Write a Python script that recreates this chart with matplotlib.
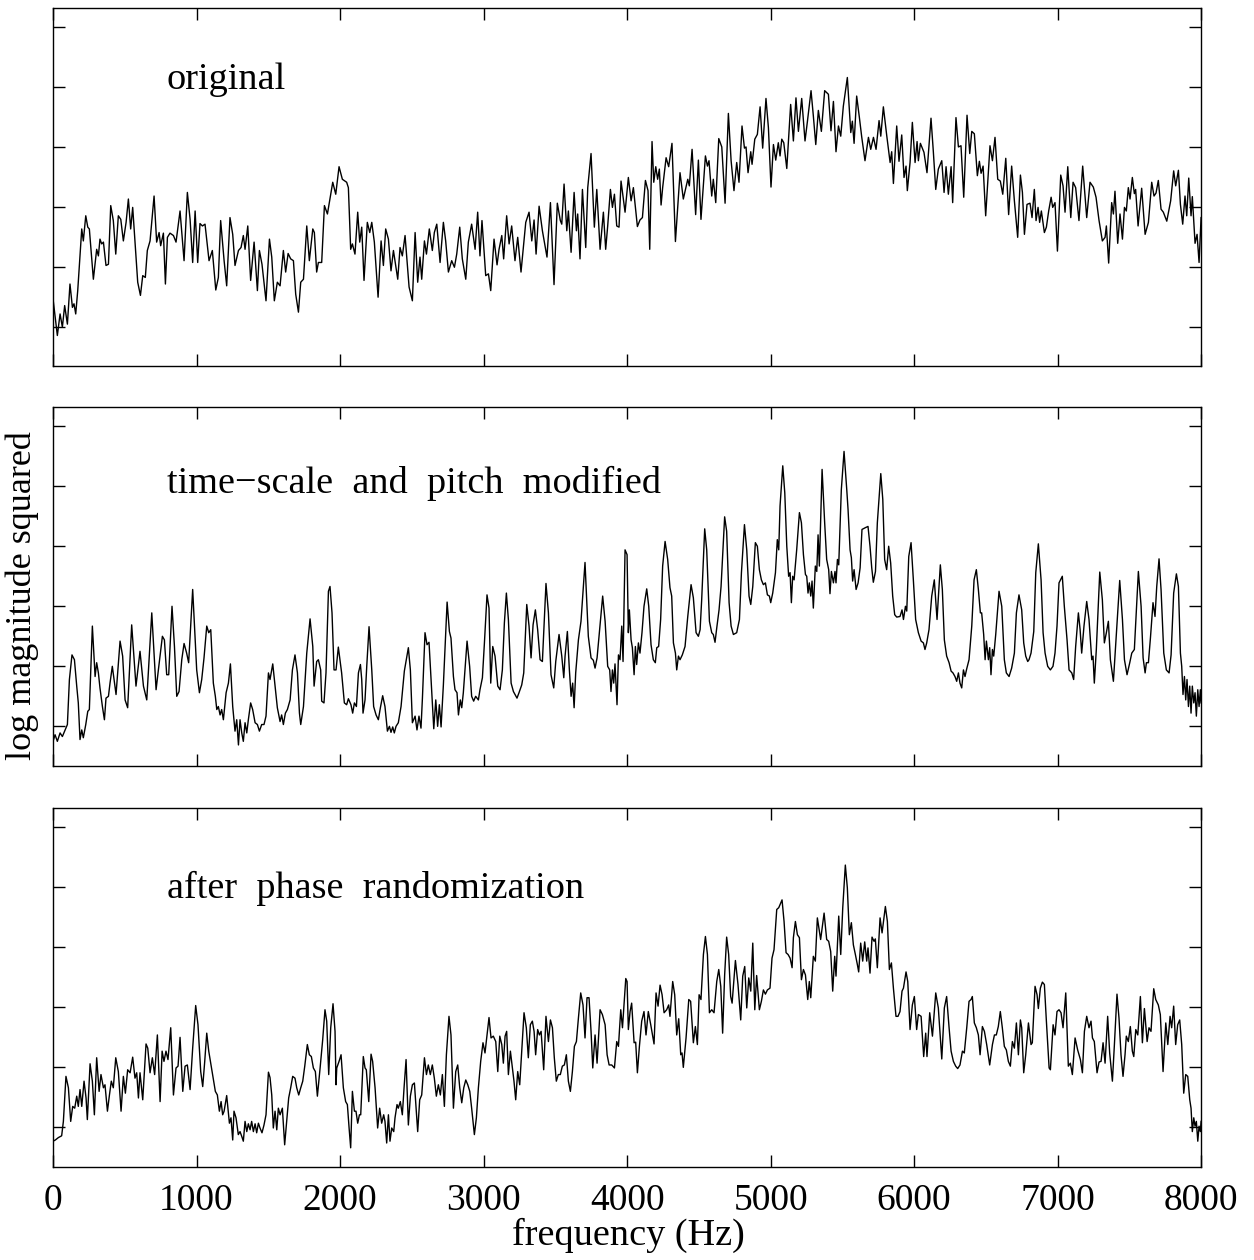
import numpy as np
import matplotlib
matplotlib.use('Agg')
import matplotlib.pyplot as plt

plt.rcParams['font.family'] = ['Liberation Serif', 'DejaVu Serif']

# spectra: frequency (Hz) and log magnitude squared (dB)
orig_hz = [0, 30, 49, 65, 81, 100, 118, 135, 146, 158, 172, 200, 211, 228, 242, 253, 281, 304, 316, 327,
           339, 351, 369, 386, 402, 420, 437, 455, 472, 490, 509, 525, 541, 555, 571, 590, 609, 625, 643, 657,
           676, 704, 722, 739, 750, 769, 783, 797, 815, 839, 857, 885, 913, 936, 955, 973, 990, 1008, 1024, 1041,
           1059, 1087, 1110, 1134, 1152, 1168, 1182, 1192, 1210, 1233, 1252, 1268, 1292, 1310, 1326, 1338, 1357, 1377, 1401, 1424,
           1438, 1456, 1484, 1508, 1524, 1542, 1563, 1582, 1605, 1621, 1638, 1656, 1675, 1691, 1710, 1726, 1745, 1768, 1786, 1810,
           1821, 1837, 1849, 1872, 1891, 1912, 1949, 1970,
           1993, 2016, 2046, 2058, 2074, 2086, 2104, 2123, 2137, 2151, 2167, 2190, 2207, 2221, 2239, 2265, 2286, 2302, 2318, 2337,
           2355, 2372, 2388, 2402, 2418, 2434, 2453, 2481, 2504, 2523, 2541, 2557, 2569, 2588, 2602, 2622, 2643, 2657, 2674, 2697,
           2720, 2736, 2755, 2778, 2797, 2813, 2834, 2852, 2876, 2894, 2917, 2941, 2959, 2975, 2989, 3015, 3034, 3050, 3073, 3094,
           3108, 3127, 3140, 3161, 3178, 3196, 3219, 3238, 3261, 3294, 3317, 3336, 3352, 3366, 3387, 3410, 3442, 3466, 3491, 3514,
           3535, 3545, 3561, 3580, 3591, 3610, 3631, 3647, 3656, 3672, 3689, 3712, 3726, 3749, 3772, 3789, 3812, 3835, 3851, 3865,
           3884, 3898, 3912, 3928, 3944, 3958,
           3986, 4009, 4028, 4044, 4072, 4090, 4107, 4128, 4146, 4158, 4174, 4186, 4200, 4213, 4225, 4237, 4248, 4272, 4290, 4313,
           4337, 4369, 4392, 4423, 4434, 4453, 4478, 4497, 4515, 4546, 4560, 4571, 4590, 4601, 4618, 4639, 4660, 4683, 4706, 4725,
           4745, 4764, 4780, 4801, 4818, 4829, 4843, 4862, 4871, 4890, 4908, 4927, 4945, 4968, 4985, 5003, 5020, 5036, 5054, 5066,
           5078, 5092, 5113, 5140, 5159, 5177, 5194, 5217, 5240, 5257, 5282, 5298, 5315, 5333, 5354, 5377, 5403, 5421, 5438, 5456,
           5473, 5489, 5507, 5535, 5559, 5570, 5582, 5600, 5619, 5635, 5658, 5682, 5698, 5717, 5735, 5756, 5768, 5786, 5809, 5833,
           5844, 5856, 5879, 5895, 5914, 5930, 5944, 5953, 5972,
           5988, 6007, 6021, 6030, 6044, 6069, 6090, 6118, 6134, 6151, 6169, 6193, 6209, 6223, 6239, 6258, 6269, 6292, 6309, 6327,
           6346, 6369, 6388, 6402, 6420, 6441, 6455, 6467, 6481, 6499, 6529, 6546, 6564, 6583, 6601, 6618, 6639, 6659, 6680, 6699,
           6722, 6741, 6755, 6769, 6787, 6808, 6822, 6838, 6850, 6864, 6875, 6887, 6908, 6922, 6938, 6955, 6966, 6982, 6999, 7022,
           7038, 7052, 7071, 7092, 7108, 7126, 7149, 7175, 7203, 7226, 7249, 7268, 7289, 7312, 7331, 7340, 7356, 7377, 7389, 7400,
           7419, 7435, 7452, 7466, 7479, 7493, 7505, 7521, 7535, 7544, 7561, 7586, 7610, 7633, 7656, 7672, 7686, 7702, 7721, 7737,
           7761, 7788, 7809, 7823, 7842, 7856, 7872, 7888, 7900, 7914, 7930, 7939, 7958, 7972, 7986, 8000]
orig_db = [4.6, -1.5, 2.1, -0.1, 3.5, 0.4, 7.1, 3.2, 3.8, 2.1, 6.0, 16.3, 14.3, 18.5, 16.6, 16.3, 7.9, 12.9, 11.8, 14.6,
           13.8, 14.1, 10.2, 10.4, 20.2, 17.7, 12.1, 18.5, 17.9, 14.3, 17.4, 21.3, 16.3, 19.9, 14.3, 7.4, 5.2, 8.5, 8.2, 12.7,
           14.3, 21.8, 14.1, 15.7, 13.5, 15.6, 7.1, 14.9, 15.6, 15.2, 14.1, 19.3, 11.0, 22.4, 17.9, 10.7, 19.3, 10.7, 17.2, 16.8,
           17.1, 11.0, 12.7, 6.1, 8.2, 17.7, 13.8, 11.0, 6.8, 18.2, 15.4, 10.2, 12.7, 13.2, 15.2, 12.9, 16.8, 7.7, 14.1, 6.0,
           12.7, 10.4, 4.3, 14.6, 11.6, 4.3, 7.4, 6.8, 12.7, 9.1, 12.2, 11.3, 11.0, 5.4, 2.4, 7.4, 7.9, 16.8, 11.0, 16.3,
           15.7, 9.1, 10.7, 10.7, 20.2, 18.8, 24.1, 22.1,
           26.7, 24.6, 24.1, 23.2, 12.9, 13.8, 12.1, 19.1, 14.1, 16.6, 7.7, 17.4, 15.7, 17.4, 14.1, 4.9, 14.3, 10.2, 16.3, 14.6,
           9.3, 12.7, 10.2, 7.9, 13.2, 11.8, 15.2, 6.6, 4.3, 15.7, 7.4, 11.6, 7.9, 14.3, 12.1, 16.3, 12.7, 15.7, 17.1, 10.7,
           17.4, 14.3, 9.1, 11.0, 9.9, 12.1, 16.6, 11.3, 7.9, 14.1, 17.1, 12.9, 19.1, 11.8, 17.7, 8.5, 8.8, 6.0, 14.6, 10.3,
           12.9, 15.2, 11.3, 18.5, 13.8, 16.8, 11.0, 14.9, 9.1, 17.4, 19.1, 14.3, 17.8, 12.1, 20.1, 16.0, 11.6, 20.7, 7.0, 20.6,
           17.7, 17.1, 23.8, 16.0, 19.3, 12.4, 22.4, 16.0, 18.8, 11.3, 22.9, 13.2, 23.2, 28.9, 16.6, 22.9, 12.9, 19.1, 12.9, 16.8,
           22.9, 19.9, 22.1, 16.8, 16.6, 24.3,
           19.1, 24.9, 21.0, 23.2, 16.7, 17.8, 18.2, 24.4, 22.7, 12.9, 30.9, 24.1, 26.7, 24.6, 26.3, 20.3, 23.2, 28.2, 26.7, 30.6,
           14.2, 25.7, 21.3, 24.6, 23.5, 29.6, 18.7, 27.8, 17.9, 28.5, 26.8, 27.7, 21.8, 24.6, 20.7, 31.4, 30.0, 20.6, 35.6, 27.7,
           22.7, 27.4, 24.1, 33.5, 29.8, 30.0, 25.7, 29.2, 27.1, 31.3, 32.1, 36.7, 29.8, 38.1, 33.2, 23.3, 30.4, 27.8, 30.7, 28.5,
           31.3, 30.7, 26.4, 37.1, 31.0, 38.2, 32.6, 38.1, 31.0, 34.3, 39.4, 35.2, 30.4, 36.1, 32.6, 39.4, 38.8, 32.7, 37.6, 29.2,
           33.5, 31.8, 36.8, 41.6, 32.4, 34.3, 30.6, 38.5, 34.9, 31.7, 27.7, 31.6, 29.6, 31.6, 29.6, 34.4, 31.8, 36.7, 32.0, 27.4,
           29.2, 23.9, 33.5, 27.6, 32.0, 24.9, 26.8, 22.7, 27.4,
           34.1, 27.4, 30.9, 27.7, 30.6, 29.1, 25.7, 34.8, 29.3, 22.9, 26.3, 27.7, 22.4, 26.7, 22.1, 26.7, 20.7, 34.9, 30.0, 30.2,
           21.6, 35.3, 28.9, 32.6, 32.2, 25.2, 27.6, 25.6, 26.8, 18.5, 30.2, 27.7, 31.6, 24.6, 24.3, 22.1, 28.1, 18.7, 26.8, 21.0,
           14.9, 25.3, 22.4, 15.4, 20.4, 20.6, 18.2, 22.9, 17.7, 19.9, 17.4, 19.3, 15.7, 16.6, 19.3, 21.6, 19.9, 20.7, 12.6, 25.3,
           23.5, 19.1, 26.7, 18.2, 24.1, 23.2, 17.7, 26.8, 18.2, 24.1, 23.3, 21.6, 17.7, 14.3, 14.9, 16.8, 10.6, 20.7, 18.8, 22.6,
           13.9, 18.8, 14.6, 19.9, 19.3, 23.2, 21.3, 24.9, 22.2, 22.9, 16.8, 23.1, 15.4, 17.4, 24.1, 21.8, 22.3, 24.4, 19.6, 19.1,
           17.6, 21.0, 26.0, 23.5, 26.1, 20.4, 17.1, 21.8, 18.5, 24.8, 18.5, 21.7, 13.9, 15.4, 10.7, 18.2]

mod_hz = [0, 14, 30, 49, 65, 84, 100, 114, 132, 149, 165, 176, 188, 200, 211, 228, 242, 253, 274, 293,
          304, 316, 327, 344, 358, 369, 386, 397, 413, 425, 439, 467, 485, 502, 520, 548, 578, 606, 630, 653,
          688, 718, 734, 762, 776, 792, 806, 829, 846, 862, 878, 897, 913, 931, 945, 973, 1001, 1020, 1036, 1052,
          1071, 1085, 1099, 1117, 1131, 1141, 1152, 1164, 1175, 1187, 1206, 1222, 1236, 1252, 1268, 1280, 1292, 1303, 1315, 1326,
          1338, 1350, 1361, 1377, 1391, 1408, 1424, 1438, 1454, 1470, 1484, 1501, 1512, 1531, 1547, 1563, 1582, 1593, 1605, 1619,
          1633, 1652, 1668, 1686, 1703, 1717, 1726, 1745, 1768, 1791, 1810, 1819, 1837, 1849, 1865, 1872, 1888, 1902, 1919, 1930,
          1944, 1958, 1972, 1988,
          2011, 2030, 2046, 2058, 2076, 2088, 2100, 2114, 2128, 2142, 2151, 2160, 2174, 2186, 2202, 2221, 2234, 2251, 2267, 2281,
          2297, 2313, 2330, 2344, 2355, 2367, 2378, 2390, 2406, 2425, 2448, 2462, 2476, 2490, 2504, 2523, 2536, 2550, 2564, 2574,
          2592, 2606, 2620, 2639, 2653, 2667, 2680, 2692, 2704, 2720, 2746, 2762, 2773, 2790, 2801, 2815, 2825, 2838, 2848, 2859,
          2885, 2903, 2917, 2931, 2945, 2964, 2975, 2992, 3006, 3024, 3038, 3050, 3064, 3080, 3099, 3115, 3131, 3145, 3159, 3173,
          3192, 3208, 3219, 3233, 3247, 3266, 3280, 3301, 3317, 3331, 3345, 3361, 3377, 3394, 3410, 3419, 3435, 3452, 3470, 3489,
          3503, 3526, 3545, 3559, 3568, 3584, 3598, 3610, 3621, 3631, 3642, 3661, 3679, 3707, 3730, 3749, 3765, 3777, 3791, 3809,
          3830, 3847, 3865, 3879, 3888, 3898, 3907, 3916, 3930, 3940, 3951, 3963, 3972, 3986, 4000,
          4009, 4016, 4028, 4037, 4049, 4058, 4067, 4079, 4090, 4104, 4118, 4137, 4151, 4167, 4183, 4197, 4207, 4220, 4234, 4248,
          4265, 4283, 4299, 4311, 4323, 4337, 4346, 4358, 4369, 4385, 4404, 4423, 4446, 4462, 4481, 4497, 4509, 4520, 4541, 4555,
          4574, 4590, 4601, 4613, 4625, 4641, 4655, 4680, 4694, 4711, 4725, 4741, 4764, 4783, 4797, 4818, 4834, 4850, 4862, 4876,
          4894, 4908, 4922, 4936, 4950, 4964, 4978, 4992, 5001, 5015, 5034, 5047, 5057, 5066, 5085, 5099, 5113, 5126, 5136, 5145,
          5154, 5164, 5182, 5201, 5215, 5229, 5243, 5252, 5261, 5270, 5280, 5289, 5298, 5312, 5322, 5331, 5340, 5359, 5377, 5391,
          5405, 5414, 5424, 5438, 5449, 5456, 5466, 5475, 5493, 5512, 5531, 5540, 5554, 5563, 5572, 5582, 5596, 5610, 5624, 5637,
          5661, 5679, 5693, 5705, 5716, 5731, 5744, 5768, 5782, 5795, 5809, 5823, 5837, 5851, 5865, 5879, 5902, 5916, 5926, 5940,
          5949, 5963,
          5979, 5995, 6011, 6030, 6049, 6065, 6076, 6088, 6104, 6123, 6141, 6160, 6183, 6197, 6211, 6227, 6244, 6258, 6271, 6285,
          6297, 6309, 6320, 6332, 6344, 6355, 6367, 6383, 6402, 6418, 6434, 6448, 6462, 6471, 6485, 6495, 6504, 6518, 6527, 6536,
          6546, 6555, 6569, 6592, 6611, 6629, 6643, 6662, 6680, 6699, 6713, 6731, 6750, 6764, 6778, 6792, 6801, 6815, 6834, 6848,
          6866, 6885, 6899, 6913, 6931, 6950, 6968, 6982, 6996, 7010, 7033, 7047, 7066, 7080, 7099, 7112, 7126, 7145, 7157, 7168,
          7184, 7203, 7219, 7238, 7247, 7256, 7270, 7294, 7312, 7326, 7340, 7354, 7368, 7389, 7410, 7433, 7452, 7466, 7484, 7503,
          7517, 7535, 7563, 7582, 7596, 7610, 7619, 7633, 7647, 7665, 7679, 7691, 7707, 7721, 7740, 7758, 7777, 7791, 7809, 7828,
          7842, 7856, 7865, 7874, 7884, 7893, 7902, 7912, 7921, 7930, 7939, 7949, 7958, 7967, 7977, 7986, 7995, 8000]
mod_db = [-2.5, -1.4, -2.5, -1.1, -1.7, -0.6, 0.3, 7.8, 11.9, 11.1, 6.7, 3.9, -2.2, -0.6, -1.9, 0.3, 2.5, 2.8, 16.7, 8.3,
          10.6, 8.9, 6.4, 3.3, 1.1, 4.7, 5.0, 7.2, 10.0, 7.8, 5.3, 14.2, 11.7, 4.4, 3.1, 16.9, 6.7, 12.5, 6.7, 4.4,
          18.9, 6.1, 9.4, 15.0, 14.4, 8.6, 8.6, 20.0, 13.3, 5.0, 5.8, 11.1, 13.8, 12.2, 10.6, 22.8, 9.4, 5.6, 7.8, 11.4,
          16.7, 15.6, 16.1, 7.2, 5.0, 2.8, 3.3, 1.9, 2.8, 1.1, 5.6, 7.2, 10.4, 3.3, -0.8, 1.1, -3.1, 1.1, -1.1, -2.5,
          0.6, -1.1, 1.1, 3.9, 2.8, 0.6, 0.3, -0.8, 0.3, 0.3, 1.7, 8.9, 7.8, 10.4, 6.7, 3.1, 0.8, 1.9, 0.3, 2.2,
          2.8, 4.4, 9.4, 11.9, 8.9, 2.2, 0.3, 3.3, 12.2, 17.9, 13.3, 6.7, 10.8, 11.1, 9.4, 4.2, 3.9, 8.9, 22.5, 23.3,
          18.9, 9.4, 9.4, 13.2,
          8.9, 3.9, 3.6, 4.6, 3.6, 2.2, 3.9, 3.3, 8.9, 10.3, 7.8, 2.2, 4.4, 10.0, 16.6, 9.4, 3.3, 1.9, 1.1, 3.1,
          5.1, 3.3, -0.8, 0.0, -1.0, -0.1, -1.1, 0.0, 0.6, 3.3, 9.2, 11.1, 13.1, 9.4, 0.6, 1.7, -0.6, 1.7, -0.3, 4.7,
          15.6, 13.6, 14.0, 5.8, -0.4, 4.4, 0.0, 3.6, -0.1, 6.9, 20.7, 15.8, 14.7, 8.3, 6.1, 5.6, 1.9, 4.4, 3.1, 5.6,
          14.2, 10.0, 5.0, 4.2, 5.0, 4.4, 6.1, 8.1, 13.9, 21.9, 19.7, 7.2, 13.3, 11.7, 6.7, 6.1, 9.4, 17.2, 22.2, 17.8,
          7.2, 5.8, 5.3, 4.7, 5.6, 6.9, 8.9, 20.3, 16.7, 11.4, 16.9, 19.4, 16.1, 11.1, 10.8, 15.6, 23.8, 18.9, 8.6, 6.4,
          10.8, 15.3, 11.7, 8.1, 11.7, 15.8, 9.4, 5.0, 7.2, 3.1, 8.9, 14.4, 17.5, 27.3, 15.0, 11.4, 11.0, 9.7, 11.4, 16.1,
          21.7, 17.5, 10.0, 9.4, 5.8, 9.4, 7.2, 10.4, 3.6, 11.9, 11.1, 16.7, 10.8, 29.4, 28.6,
          15.6, 19.4, 14.4, 13.1, 8.6, 13.3, 10.3, 13.9, 12.2, 15.6, 20.0, 22.9, 20.0, 13.6, 11.1, 10.6, 13.1, 13.3, 17.8, 26.7,
          30.8, 27.8, 23.1, 21.7, 13.9, 12.2, 9.4, 11.7, 11.1, 11.9, 13.3, 18.3, 23.6, 21.4, 15.6, 15.0, 16.1, 21.1, 32.9, 29.4,
          17.5, 15.6, 15.3, 14.0, 16.4, 19.4, 23.3, 34.9, 32.5, 20.6, 16.7, 15.3, 15.6, 17.8, 25.6, 33.6, 29.4, 21.7, 20.3, 23.3,
          30.6, 30.0, 26.1, 24.4, 23.6, 23.9, 21.9, 21.7, 20.6, 22.2, 25.6, 31.1, 29.4, 36.7, 43.4, 38.9, 30.0, 25.0, 25.6, 20.6,
          25.0, 24.4, 29.4, 35.6, 33.9, 28.6, 25.3, 25.0, 22.2, 23.9, 21.7, 24.2, 19.7, 26.7, 25.8, 31.9, 26.7, 42.8, 33.9, 27.8,
          26.1, 22.1, 25.8, 23.9, 25.8, 23.9, 27.8, 26.9, 39.4, 45.8, 39.4, 36.1, 29.4, 28.1, 24.2, 26.1, 22.8, 23.9, 26.4, 32.8,
          33.1, 33.3, 30.0, 26.4, 24.0, 25.8, 33.9, 42.1, 37.8, 27.8, 26.1, 30.0, 27.2, 21.7, 18.6, 18.2, 18.3, 19.4, 17.8, 20.0,
          19.2, 28.3,
          30.6, 24.4, 17.8, 15.6, 14.2, 13.9, 12.8, 13.9, 16.1, 21.7, 24.4, 17.8, 26.9, 22.8, 14.4, 11.7, 10.6, 9.2, 8.9, 8.3,
          7.5, 8.9, 7.2, 6.4, 9.4, 8.3, 9.6, 11.1, 16.7, 24.4, 26.1, 22.8, 18.9, 18.9, 15.3, 11.1, 14.2, 11.1, 13.1, 8.6,
          12.8, 11.7, 15.3, 22.5, 20.0, 11.1, 8.9, 8.3, 9.7, 12.2, 18.9, 21.9, 19.4, 13.9, 11.7, 10.8, 11.1, 12.2, 15.8, 25.6,
          30.4, 24.4, 15.6, 12.2, 10.0, 9.4, 10.0, 12.2, 16.7, 23.9, 25.0, 20.0, 14.4, 9.4, 8.9, 7.8, 13.3, 18.9, 16.1, 12.2,
          16.7, 20.8, 17.8, 11.1, 11.7, 7.2, 12.8, 25.7, 21.1, 13.9, 15.6, 17.5, 11.1, 7.5, 15.6, 24.3, 17.8, 11.1, 8.6, 10.6,
          12.2, 12.8, 25.8, 20.0, 11.4, 8.9, 10.6, 10.6, 14.7, 20.6, 18.3, 23.3, 27.9, 22.8, 12.2, 9.4, 8.9, 11.9, 22.2, 25.4,
          23.3, 12.2, 10.0, 5.3, 8.3, 4.4, 7.8, 3.3, 6.7, 2.2, 6.7, 3.9, 5.6, 1.7, 6.1, 3.3, 6.1, 3.9]

rand_hz = [0, 16, 37, 60, 72, 90, 107, 123, 137, 151, 165, 176, 188, 200, 216, 230, 239, 258, 274, 288,
           304, 321, 334, 351, 362, 379, 393, 406, 420, 437, 455, 474, 490, 504, 520, 537, 555, 571, 583, 595,
           606, 625, 648, 660, 676, 692, 708, 727, 746, 760, 773, 787, 801, 820, 839, 857, 871, 885, 904, 920,
           936, 955, 973, 994, 1010, 1029, 1043, 1057, 1071, 1085, 1101, 1117, 1131, 1145, 1159, 1171, 1182, 1192, 1210, 1229,
           1240, 1252, 1261, 1275, 1291, 1303, 1315, 1326, 1338, 1350, 1361, 1373, 1384, 1396, 1408, 1419, 1431, 1442, 1456, 1470,
           1484, 1501, 1512, 1524, 1535, 1547, 1559, 1570, 1582, 1598, 1614, 1628, 1642, 1656, 1670, 1686, 1698, 1712, 1726, 1740,
           1754, 1772, 1786, 1800, 1814, 1828, 1842, 1861, 1879, 1895, 1907, 1921, 1935, 1951, 1965, 1972,
           1977, 1993, 2007, 2023, 2039, 2051, 2063, 2074, 2086, 2100, 2111, 2123, 2135, 2144, 2162, 2174, 2183, 2200, 2216, 2227,
           2244, 2262, 2276, 2290, 2304, 2313, 2325, 2337, 2348, 2360, 2374, 2383, 2397, 2406, 2420, 2434, 2446, 2460, 2476, 2490,
           2504, 2518, 2527, 2541, 2555, 2569, 2588, 2602, 2615, 2629, 2643, 2657, 2671, 2685, 2699, 2713, 2727, 2741, 2759, 2773,
           2790, 2806, 2820, 2834, 2848, 2862, 2876, 2890, 2904, 2917, 2936, 2950, 2964, 2980, 2996, 3010, 3024, 3038, 3052, 3068,
           3085, 3099, 3113, 3127, 3138, 3150, 3161, 3173, 3187, 3201, 3212, 3224, 3238, 3252, 3266, 3282, 3298, 3312, 3326, 3340,
           3352, 3363, 3377, 3389, 3401, 3419, 3435, 3452, 3466, 3480, 3493, 3507, 3521, 3535, 3549, 3563, 3577, 3591, 3605, 3619,
           3633, 3647, 3661, 3677, 3693, 3707, 3721, 3735, 3749, 3761, 3777, 3791, 3812, 3828, 3847, 3861, 3875, 3893, 3912, 3928,
           3940, 3956, 3968, 3991, 4000,
           4009, 4021, 4032, 4049, 4060, 4072, 4086, 4102, 4118, 4132, 4148, 4165, 4188, 4202, 4216, 4230, 4244, 4258, 4276, 4290,
           4299, 4318, 4332, 4346, 4360, 4374, 4383, 4392, 4411, 4430, 4443, 4462, 4476, 4490, 4502, 4515, 4532, 4546, 4560, 4574,
           4590, 4606, 4625, 4639, 4653, 4666, 4680, 4694, 4708, 4722, 4732, 4755, 4773, 4792, 4806, 4820, 4834, 4848, 4862, 4876,
           4890, 4903, 4922, 4936, 4950, 4964, 4978, 4996, 5010, 5024, 5043, 5057, 5080, 5094, 5108, 5122, 5136, 5150, 5159, 5173,
           5187, 5201, 5215, 5229, 5243, 5259, 5270, 5280, 5298, 5312, 5326, 5349, 5373, 5391, 5405, 5419, 5433, 5447, 5456, 5475,
           5489, 5503, 5521, 5535, 5549, 5563, 5577, 5591, 5605, 5614, 5628, 5642, 5656, 5670, 5679, 5693, 5707, 5721, 5730, 5744,
           5763, 5777, 5800, 5814, 5828, 5842, 5856, 5874, 5888, 5902, 5916, 5926, 5944,
           5956, 5972, 5988, 6002, 6018, 6030, 6049, 6067, 6081, 6090, 6109, 6128, 6151, 6169, 6193, 6211, 6227, 6244, 6258, 6274,
           6290, 6304, 6320, 6337, 6350, 6367, 6383, 6397, 6406, 6420, 6434, 6448, 6460, 6476, 6490, 6506, 6527, 6546, 6560, 6573,
           6587, 6601, 6615, 6629, 6643, 6657, 6671, 6685, 6699, 6713, 6727, 6741, 6750, 6764, 6778, 6797, 6815, 6824, 6843, 6857,
           6866, 6880, 6894, 6908, 6922, 6941, 6950, 6969, 6982, 6996, 7010, 7024, 7038, 7057, 7075, 7089, 7103, 7122, 7140, 7159,
           7173, 7187, 7203, 7219, 7233, 7243, 7256, 7275, 7289, 7303, 7317, 7331, 7349, 7363, 7382, 7396, 7414, 7428, 7442, 7456,
           7470, 7479, 7493, 7507, 7521, 7531, 7545, 7559, 7577, 7591, 7605, 7624, 7637, 7651, 7670, 7684, 7702, 7716, 7735, 7754,
           7768, 7784, 7795, 7809, 7823, 7837, 7851, 7865, 7879, 7893, 7907, 7921, 7930, 7939, 7949, 7958, 7967, 7977, 7986, 7995,
           8000]
rand_db = [-2.3, -2.1, -1.7, -1.4, 1.0, 8.5, 6.6, 1.0, 3.5, 3.2, 5.2, 3.5, 6.3, 3.5, 7.7, 4.9, 1.3, 10.6, 7.7, 2.1,
           11.6, 6.0, 8.8, 6.6, 7.1, 2.7, 5.4, 7.7, 6.6, 11.6, 9.3, 2.7, 8.5, 5.7, 9.6, 9.1, 11.7, 8.2, 9.1, 4.9,
           9.1, 4.6, 13.9, 13.2, 9.1, 11.6, 8.8, 15.4, 4.3, 12.7, 11.0, 12.7, 11.3, 16.6, 5.4, 9.9, 10.2, 15.0, 6.0, 10.2,
           10.4, 6.3, 13.2, 20.3, 17.1, 9.3, 6.8, 11.0, 15.7, 12.7, 10.4, 8.2, 6.0, 5.4, 2.7, 4.3, 2.1, 2.7, 5.3, 0.7,
           1.6, -2.1, 2.7, 1.6, -1.2, -0.7, -1.5, -2.3, 1.0, -0.7, 0.6, -0.4, 1.0, -0.7, 0.6, -0.9, 0.7, -0.1, -0.9, 0.4,
           2.1, 9.2, 8.3, 5.4, -0.1, 2.7, -0.4, 3.2, 2.1, 3.2, -2.9, 1.0, 4.9, 6.6, 8.5, 8.2, 6.6, 5.4, 6.6, 7.7,
           10.2, 13.8, 12.1, 11.8, 9.9, 9.3, 5.2, 9.9, 14.6, 19.6, 17.7, 8.8, 16.6, 20.6, 16.0, 7.1,
           9.9, 11.0, 12.1, 6.6, 4.3, 3.8, -0.1, -3.4, 6.0, 2.7, 2.7, 0.7, 2.1, 2.1, 11.8, 9.9, 9.6, 4.3, 12.2, 11.0,
           6.6, -0.1, 3.2, 0.7, 2.1, 1.0, -2.6, 2.1, -2.3, -0.1, -0.7, 1.6, 3.8, 3.2, 4.3, 2.1, 6.6, 11.3, 0.4, 5.2,
           7.1, 7.4, 4.3, -0.7, 4.6, 5.4, 11.6, 8.8, 10.4, 8.8, 10.4, 8.2, 5.2, 7.1, 5.4, 8.8, 3.5, 12.1, 18.5, 15.4,
           3.2, 9.3, 10.4, 6.6, 4.1, 6.6, 7.9, 7.1, 6.0, 3.2, -1.2, 1.6, 6.6, 11.0, 14.1, 12.4, 15.4, 18.3, 14.9, 15.2,
           14.3, 9.3, 15.2, 13.8, 10.7, 15.2, 16.0, 8.8, 12.7, 9.9, 7.7, 4.6, 9.3, 7.1, 12.7, 19.1, 16.6, 11.6, 17.1, 17.7,
           16.0, 12.1, 16.3, 15.4, 16.0, 9.6, 18.5, 14.3, 17.9, 16.6, 11.6, 7.7, 8.8, 8.8, 10.2, 10.4, 12.1, 7.7, 6.0, 9.3,
           13.5, 14.3, 18.2, 22.4, 20.4, 14.9, 21.6, 21.6, 16.0, 9.9, 15.4, 10.7, 19.6, 18.8, 17.1, 12.1, 10.4, 10.4, 9.9, 14.3,
           13.5, 19.6, 16.6, 24.8, 24.3,
           16.3, 19.3, 20.7, 14.1, 14.2, 9.1, 13.5, 17.7, 19.3, 15.4, 19.3, 17.1, 13.9, 22.4, 20.2, 23.7, 22.1, 19.1, 19.6, 20.4,
           18.5, 24.3, 22.1, 15.4, 18.1, 12.1, 12.4, 10.0, 14.9, 21.3, 21.0, 14.1, 16.8, 13.8, 22.1, 21.3, 28.8, 31.8, 28.8, 19.1,
           19.6, 19.1, 24.3, 26.3, 23.5, 15.7, 25.4, 31.7, 28.8, 21.8, 20.7, 27.8, 23.8, 17.9, 25.2, 26.8, 19.9, 24.9, 22.7, 30.7,
           19.6, 25.3, 19.6, 21.0, 22.9, 22.2, 22.9, 23.2, 28.2, 29.6, 36.3, 36.6, 37.9, 34.3, 29.1, 28.8, 28.2, 26.6, 31.6, 34.3,
           32.1, 31.6, 24.6, 26.3, 25.4, 21.3, 24.3, 21.6, 28.5, 27.7, 34.9, 31.3, 35.7, 31.3, 31.0, 29.3, 22.7, 28.5, 25.2, 35.2,
           28.8, 36.6, 43.7, 39.9, 32.1, 34.1, 30.4, 28.8, 27.1, 25.9, 30.7, 27.7, 30.9, 27.7, 29.9, 25.7, 31.7, 31.0, 31.4, 26.6,
           34.9, 32.4, 36.8, 34.3, 26.3, 27.4, 23.2, 18.5, 18.5, 19.3, 22.7, 23.2, 25.9,
           24.3, 16.3, 20.4, 21.8, 16.3, 18.8, 18.5, 11.8, 15.7, 11.8, 19.1, 15.2, 22.4, 19.9, 11.4, 19.9, 21.8, 16.6, 12.7, 11.0,
           10.2, 9.8, 10.4, 12.7, 12.4, 16.6, 21.0, 21.3, 21.8, 17.4, 16.6, 15.4, 12.1, 16.8, 16.0, 13.8, 10.4, 13.8, 15.4, 15.4,
           16.8, 19.3, 16.6, 13.5, 12.9, 11.0, 10.2, 14.3, 13.2, 17.4, 12.1, 17.9, 16.6, 9.1, 12.1, 17.4, 13.8, 14.1, 23.5, 22.1,
           19.8, 23.2, 24.2, 23.8, 17.7, 9.9, 9.6, 17.1, 15.4, 19.3, 19.6, 19.1, 16.6, 22.4, 10.2, 10.7, 8.8, 14.9, 12.9, 11.3,
           9.1, 16.0, 18.5, 16.6, 17.7, 14.9, 14.3, 9.1, 10.9, 11.0, 14.1, 10.7, 18.5, 12.4, 7.7, 13.8, 22.2, 18.2, 12.1, 8.5,
           12.1, 15.2, 14.3, 16.8, 12.7, 11.8, 16.3, 15.4, 21.8, 14.1, 19.8, 14.3, 16.6, 16.0, 23.1, 21.3, 20.4, 18.8, 9.3, 17.4,
           13.8, 18.5, 16.6, 20.2, 13.8, 17.1, 17.9, 13.8, 5.7, 8.8, 8.5, 4.6, 3.2, -0.7, 1.6, 0.2, 1.0, -2.3, 0.2, -0.7,
           1.0]

panel_labels = ['original', 'time\u2212scale  and  pitch  modified', 'after  phase  randomization']
freq_ticks = np.arange(0, 8001, 1000)
db_ticks = np.arange(0, 51, 10)

fig = plt.figure(figsize=(12.54, 12.60), dpi=100)
boxes = [[0.0423, 0.7095, 0.9155, 0.2841],
         [0.0423, 0.3921, 0.9155, 0.2849],
         [0.0423, 0.0738, 0.9155, 0.2849]]
series = [(orig_hz, orig_db), (mod_hz, mod_db), (rand_hz, rand_db)]

for i, (box, (hz, db)) in enumerate(zip(boxes, series)):
    ax = fig.add_axes(box)
    ax.plot(hz, db, color='black', lw=1.0)
    ax.set_xlim(0, 8000)
    ax.set_ylim(-6.6, 53.2)
    ax.set_xticks(freq_ticks)
    ax.set_yticks(db_ticks)
    ax.set_yticklabels([])
    ax.tick_params(direction='in', length=8.5, width=1.0, top=True, right=True,
                   labelsize=27, pad=12)
    if i < 2:
        ax.set_xticklabels([])
    for sp in ax.spines.values():
        sp.set_linewidth(1.0)
    ax.text(0.099, 0.80 - 0.012 * i, panel_labels[i], transform=ax.transAxes,
            fontsize=27.5, va='center', ha='left')

fig.text(628 / 1254, 1 - 1235 / 1260, 'frequency (Hz)', fontsize=27.5, ha='center', va='center')
fig.text(22 / 1254, 1 - 596 / 1260, 'log magnitude squared', fontsize=26, rotation=90,
         ha='center', va='center')

fig.savefig('out.png', dpi=100)
